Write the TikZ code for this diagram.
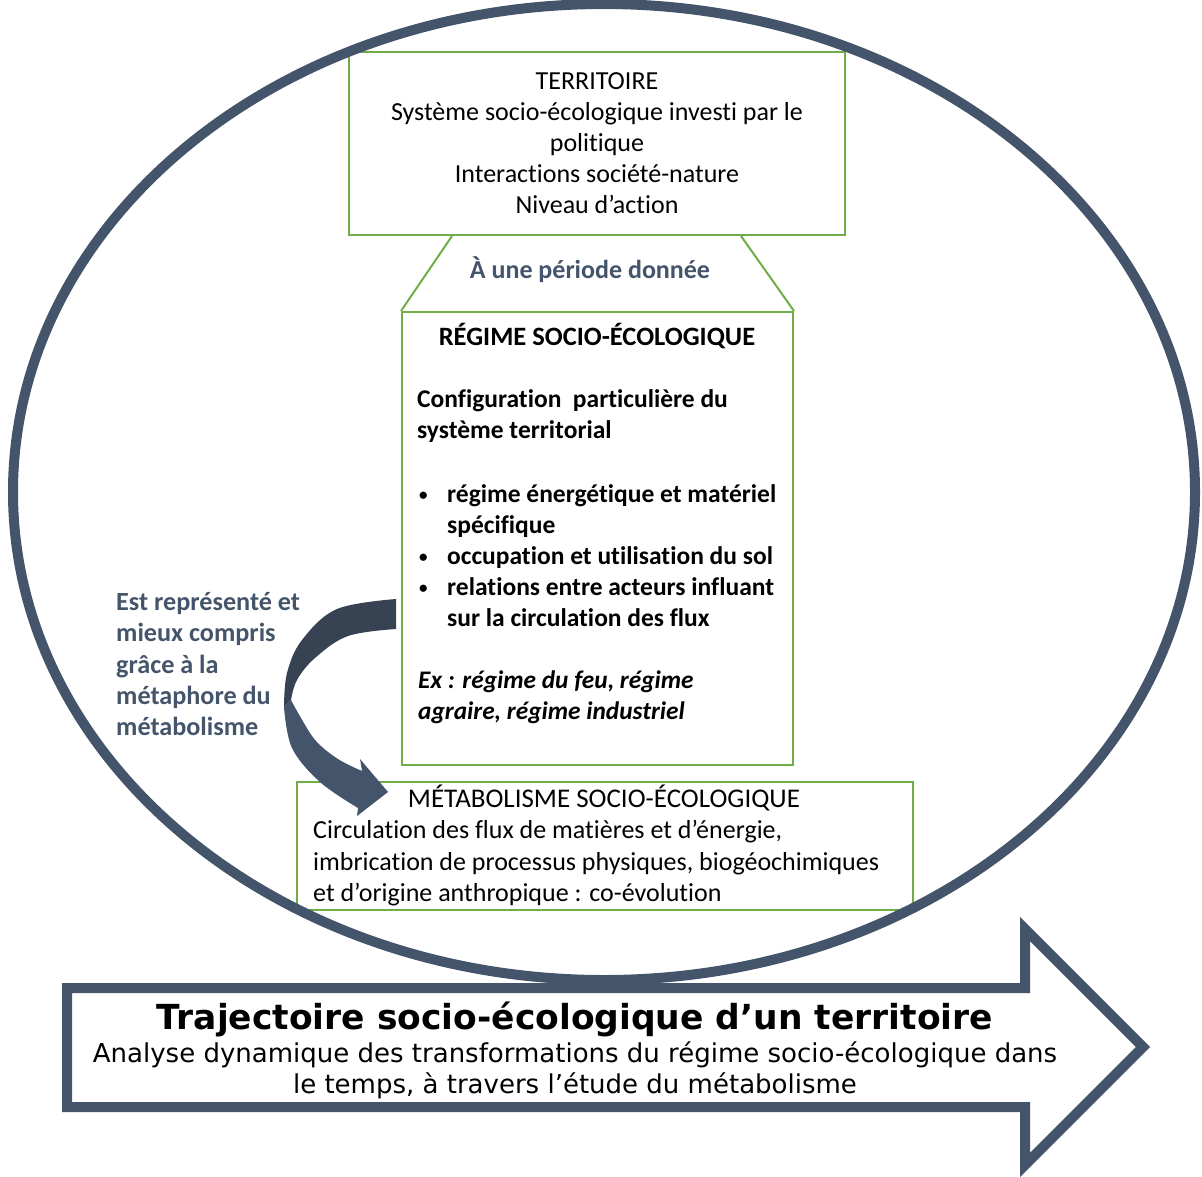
\documentclass[tikz,border=0pt]{standalone}
\usepackage{fontspec}
\setmainfont[Ligatures=NoCommon]{Carlito}
\newfontfamily\arrowfont{DejaVu Sans}
\usetikzlibrary{calc}
\definecolor{gr}{RGB}{112,173,71}
\definecolor{sl}{RGB}{68,84,106}
\definecolor{sld}{RGB}{55,67,83}
\tikzset{
  gbox/.style={draw=gr, line width=2pt, rectangle, inner sep=0pt},
  gline/.style={draw=gr, line width=2pt},
  tc/.style={inner sep=0pt, anchor=base, font=\fontsize{26}{31}\selectfont},
  tl/.style={inner sep=0pt, anchor=base west, font=\fontsize{26}{31}\selectfont},
  tb/.style={inner sep=0pt, anchor=base west, font=\fontsize{25.5}{31}\selectfont\bfseries},
  tbc/.style={inner sep=0pt, anchor=base, font=\fontsize{26.5}{31}\selectfont\bfseries},
  tbi/.style={inner sep=0pt, anchor=base west, font=\fontsize{25.3}{31}\selectfont\bfseries\itshape},
  bul/.style={inner sep=0pt, anchor=base west, font=\fontsize{17}{31}\selectfont\bfseries},
  side/.style={inner sep=0pt, anchor=base west, text=sl, font=\fontsize{26.2}{31}\selectfont\bfseries},
  ttl/.style={inner sep=0pt, anchor=base, font=\arrowfont\fontsize{34.5}{36}\selectfont\bfseries},
  sub/.style={inner sep=0pt, anchor=base, font=\arrowfont\fontsize{26}{31}\selectfont},
}
\begin{document}
\begin{tikzpicture}[x=1pt,y=-1pt]
\useasboundingbox (0,0) rectangle (1202,1176);
% boxes
\node[gbox, minimum width=496pt, minimum height=183pt] (terr) at (597,143.5) {};
\node[gbox, minimum width=391pt, minimum height=453pt] (reg) at (597.5,538.5) {};
\node[gbox, minimum width=616pt, minimum height=128pt] (meta) at (605,846) {};
\draw[gline] ($(terr.south west)+(104pt,0)$) -- (reg.north west);
\draw[gline] ($(terr.south east)+(-105pt,0)$) -- (reg.north east);
% territoire text
\node[tc] (t1) at (597,89) {TERRITOIRE};
\node[tc] (t2) at (597,120) {Système socio-écologique investi par le};
\node[tc] (t3) at (597,151) {politique};
\node[tc] (t4) at (597,182) {Interactions société-nature};
\node[tc] (t5) at (597,213) {Niveau d’action};
\node[tbc, text=sl, font=\fontsize{26}{31}\selectfont\bfseries] (per) at (590,278) {À une période donnée};
% regime text
\node[tbc] (r0) at (597,345) {RÉGIME SOCIO-ÉCOLOGIQUE};
\node[tb] (r1) at (417,407) {Configuration~ particulière du};
\node[tb] (r2) at (417,438) {système territorial};
\node[bul] (b1) at (419,500) {•};
\node[tb] (r3) at (447,502) {régime énergétique et matériel};
\node[tb] (r4) at (447,533) {spécifique};
\node[bul] (b2) at (419,562) {•};
\node[tb] (r5) at (447,564) {occupation et utilisation du sol};
\node[bul] (b3) at (419,593) {•};
\node[tb] (r6) at (447,595) {relations entre acteurs influant};
\node[tb] (r7) at (447,626) {sur la circulation des flux};
\node[tbi] (r8) at (418,688) {Ex : régime du feu, régime};
\node[tbi] (r9) at (418,719) {agraire, régime industriel};
% metabolisme text
\node[tc, font=\fontsize{27}{31}\selectfont] (m0) at (604,807) {MÉTABOLISME SOCIO-ÉCOLOGIQUE};
\node[tl] (m1) at (313,838) {Circulation des flux de matières et d’énergie,};
\node[tl] (m2) at (313,870) {imbrication de processus physiques, biogéochimiques};
\node[tl] (m3) at (313,901) {et d’origine anthropique : co-évolution};
% side text
\node[side] (s1) at (116,610) {Est représenté et};
\node[side] (s2) at (116,641) {mieux compris};
\node[side] (s3) at (116,673) {grâce à la};
\node[side] (s4) at (116,704) {métaphore du};
\node[side] (s5) at (116,735) {métabolisme};
% curved arrow
\fill[sld] plot[smooth, tension=0.6] coordinates {(396,599) (337,609) (302,640) (287,673) (284,707)}
  -- plot[smooth, tension=0.6] coordinates {(291,700) (297,680) (315,658) (348,636) (396,629)} -- cycle;
\fill[sl] plot[smooth, tension=0.6] coordinates {(284,707) (292,748) (320,782) (358,808)}
  -- (357,816) -- (388,792) -- (360,759)
  -- plot[smooth, tension=0.6] coordinates {(362,771) (338,759) (316,741) (301,718) (291,700)} -- cycle;
% ellipse
\draw[sl, line width=10pt] (604,492) ellipse [x radius=591pt, y radius=488pt];
% big arrow
\draw[sl, line width=10pt, fill=white, miter limit=10] (67,988) -- (1025,988) -- (1025,929) -- (1143,1047) -- (1025,1165) -- (1025,1107) -- (67,1107) -- cycle;
\node[ttl] (a1) at (575,1029) {Trajectoire socio-écologique d’un territoire};
\node[sub] (a2) at (575,1062) {Analyse dynamique des transformations du régime socio-écologique dans};
\node[sub] (a3) at (575,1093) {le temps, à travers l’étude du métabolisme};
\end{tikzpicture}
\end{document}
